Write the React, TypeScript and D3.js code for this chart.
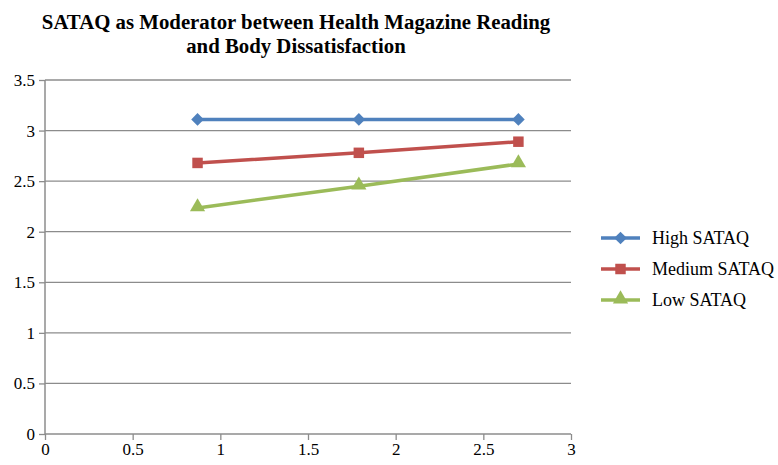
import React, { useEffect, useRef } from "react";
import * as d3 from "d3";

const titleLines = [
  "SATAQ as Moderator between Health Magazine Reading",
  "and Body Dissatisfaction",
];
const xValues = [0.87, 1.79, 2.7];
const seriesNames = ["High SATAQ", "Medium SATAQ", "Low SATAQ"];
const highValues = [3.11, 3.11, 3.11];
const mediumValues = [2.68, 2.78, 2.89];
const lowValues = [2.235, 2.45, 2.67];
const colors = ["#4F81BD", "#C0504D", "#9BBB59"];
const xTicks = [0, 0.5, 1, 1.5, 2, 2.5, 3];
const yTicks = [0, 0.5, 1, 1.5, 2, 2.5, 3, 3.5];

export default function App() {
  const ref = useRef<SVGSVGElement>(null);

  useEffect(() => {
    const svg = d3.select(ref.current);
    svg.selectAll("*").remove();

    const width = 778;
    const height = 465;
    const margin = { top: 80, left: 45, bottom: 31, right: 207 };
    const iwidth = width - margin.left - margin.right;
    const iheight = height - margin.top - margin.bottom;
    const font = "Liberation Serif, Times New Roman, serif";

    const x = d3.scaleLinear().domain([0, 3]).range([0, iwidth]);
    const y = d3.scaleLinear().domain([0, 3.5]).range([iheight, 0]);

    // titulo
    svg
      .append("g")
      .selectAll("text")
      .data(titleLines)
      .enter()
      .append("text")
      .attr("x", 296)
      .attr("y", (d, i) => 29 + i * 24)
      .attr("text-anchor", "middle")
      .attr("font-family", font)
      .attr("font-weight", "bold")
      .attr("font-size", 20.8)
      .text((d) => d);

    const g = svg
      .append("g")
      .attr("transform", `translate(${margin.left},${margin.top})`);

    // rejilla
    g.append("g")
      .selectAll("line")
      .data(yTicks.filter((t) => t > 0))
      .enter()
      .append("line")
      .attr("x1", 0)
      .attr("x2", iwidth)
      .attr("y1", (d) => y(d))
      .attr("y2", (d) => y(d))
      .attr("stroke", "#8c8c8c")
      .attr("stroke-width", 1.3);

    const yAxis = g
      .append("g")
      .call(d3.axisLeft(y).tickValues(yTicks).tickSize(6).tickPadding(4).tickFormat(d3.format("")));
    const xAxis = g
      .append("g")
      .attr("transform", `translate(0, ${iheight})`)
      .call(d3.axisBottom(x).tickValues(xTicks).tickSize(6).tickPadding(3).tickFormat(d3.format("")));

    [yAxis, xAxis].forEach((ax) => {
      ax.attr("font-family", font).attr("font-size", 17);
      ax.selectAll("path").attr("stroke", "#8c8c8c").attr("stroke-width", 1.5);
      ax.selectAll("line").attr("stroke", "#8c8c8c").attr("stroke-width", 1.3);
      ax.selectAll("text").attr("fill", "#000");
    });
    yAxis.select("path").attr("d", `M0,0V${iheight}`);
    xAxis.select("path").attr("d", `M0,0H${iwidth}`);
    yAxis.selectAll(".tick line").attr("x1", -6).attr("x2", 0);
    xAxis.selectAll(".tick line").attr("y1", 0).attr("y2", 6);

    const allSeries = [highValues, mediumValues, lowValues];
    // rombo = cuadrado girado 45 grados
    const symbols = [d3.symbolSquare, d3.symbolSquare, d3.symbolTriangle];
    const sizes = [80, 110, 100];
    const rot = [45, 0, 0];
    const dy = [0, 0, -1];

    const line = d3
      .line<number>()
      .x((d, i) => x(xValues[i]))
      .y((d) => y(d));

    allSeries.forEach((vals, si) => {
      g.append("path")
        .datum(vals)
        .attr("d", line)
        .attr("fill", "none")
        .attr("stroke", colors[si])
        .attr("stroke-width", 3.5);
      g.selectAll(`.pt${si}`)
        .data(vals)
        .enter()
        .append("path")
        .attr("class", `pt${si}`)
        .attr("d", d3.symbol().type(symbols[si]).size(sizes[si]))
        .attr("transform", (d, i) => `translate(${x(xValues[i])},${y(d) + dy[si]}) rotate(${rot[si]})`)
        .attr("fill", colors[si]);
    });

    // leyenda
    const legend = svg.append("g").attr("transform", "translate(601,238)");
    seriesNames.forEach((name, i) => {
      const row = legend.append("g").attr("transform", `translate(0, ${i * 31})`);
      row
        .append("line")
        .attr("x1", 0)
        .attr("x2", 39)
        .attr("stroke", colors[i])
        .attr("stroke-width", 3.5);
      row
        .append("path")
        .attr("d", d3.symbol().type(symbols[i]).size(sizes[i]))
        .attr("transform", `translate(19.5, ${dy[i]}) rotate(${rot[i]})`)
        .attr("fill", colors[i]);
      row
        .append("text")
        .attr("x", 51)
        .attr("y", 6)
        .attr("font-family", font)
        .attr("font-size", 18)
        .text(name);
    });
  }, []);

  return (
    <svg
      ref={ref}
      width={778}
      height={465}
      style={{ position: "absolute", left: 0, top: 0, background: "#fff" }}
    ></svg>
  );
}
